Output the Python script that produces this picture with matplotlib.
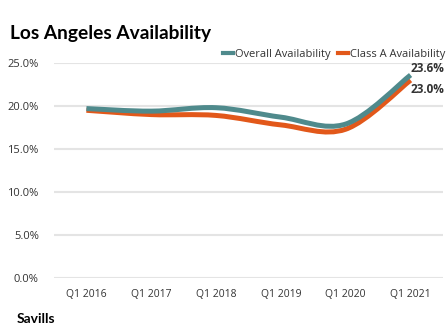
import numpy as np
import matplotlib
matplotlib.use("Agg")
import matplotlib.pyplot as plt
from matplotlib.path import Path
from matplotlib.patches import PathPatch
from matplotlib.lines import Line2D

quarters = ["Q1 2016", "Q1 2017", "Q1 2018", "Q1 2019", "Q1 2020", "Q1 2021"]
overall = [19.7, 19.4, 19.8, 18.7, 17.9, 23.6]
class_a = [19.5, 19.0, 18.9, 17.8, 17.3, 23.0]
y_ticks = [0, 5, 10, 15, 20, 25]

TEAL = "#4f8a8c"
ORANGE = "#e2581a"
GRID = "#e4e4e4"
TEXT = "#333333"


def spline_path(xs, ys):
    # Catmull-Rom curve through the points, expressed as cubic Beziers
    pts = np.column_stack([xs, ys]).astype(float)
    ext = np.vstack([pts[0], pts, pts[-1]])
    verts = [pts[0]]
    codes = [Path.MOVETO]
    for i in range(len(pts) - 1):
        p0, p1, p2, p3 = ext[i], ext[i + 1], ext[i + 2], ext[i + 3]
        c1 = p1 + (p2 - p0) / 6.0
        c2 = p2 - (p3 - p1) / 6.0
        verts += [c1, c2, p2]
        codes += [Path.CURVE4] * 3
    return Path(verts, codes)


fig = plt.figure(figsize=(4.48, 3.32), dpi=100)
ax = fig.add_axes([0.1205, 0.1627, 0.8683, 0.6476])

x = np.arange(len(quarters))
for vals, color in [(class_a, ORANGE), (overall, TEAL)]:
    patch = PathPatch(spline_path(x, vals), facecolor="none", edgecolor=color,
                      linewidth=3.6, capstyle="butt", joinstyle="round", zorder=3)
    ax.add_patch(patch)

ax.set_xlim(-0.5, 5.5)
ax.set_ylim(0, 25)
ax.set_yticks(y_ticks)
ax.set_yticklabels([f"{v:.1f}%" for v in y_ticks])
ax.set_xticks(x)
ax.set_xticklabels(quarters)
for t in ax.get_xticklabels():
    t.set_fontfamily("Open Sans")
    t.set_fontsize(7.5)
    t.set_color(TEXT)
for t in ax.get_yticklabels():
    t.set_fontfamily("Open Sans")
    t.set_fontsize(8)
    t.set_color(TEXT)
ax.tick_params(length=0)
ax.tick_params(axis="y", pad=11)
ax.tick_params(axis="x", pad=8)
ax.grid(axis="y", color=GRID, linewidth=1.5)
ax.set_axisbelow(True)
for s in ax.spines.values():
    s.set_visible(False)

# end-of-line value labels
ax.annotate(f"{overall[-1]:.1f}%", (x[-1], overall[-1]), xytext=(24.5, 5),
            textcoords="offset points", ha="right", va="center",
            fontsize=8.5, fontweight="bold", color=TEXT, family="Open Sans",
            annotation_clip=False)
ax.annotate(f"{class_a[-1]:.1f}%", (x[-1], class_a[-1]), xytext=(24.5, -7),
            textcoords="offset points", ha="right", va="center",
            fontsize=8.5, fontweight="bold", color=TEXT, family="Open Sans",
            annotation_clip=False)

handles = [Line2D([], [], color=TEAL, linewidth=3),
           Line2D([], [], color=ORANGE, linewidth=3)]
fig.legend(handles, ["Overall Availability", "Class A Availability"],
           loc="center right", bbox_to_anchor=(1.005, 1 - 54 / 332), ncol=2,
           frameon=False, handlelength=0.9, handletextpad=0.2,
           columnspacing=0.7, prop={"family": "Open Sans", "size": 8},
           labelcolor=TEXT, borderaxespad=0)

fig.text(10 / 448, 1 - 33 / 332, "Los Angeles Availability", fontsize=13.8,
         fontweight="bold", family="Lato", va="center", ha="left", color="black")
fig.text(17 / 448, 1 - 319 / 332, "Savills", fontsize=10,
         fontweight="bold", family="Lato", va="center", ha="left", color="black")

fig.savefig("out.png", dpi=100)
